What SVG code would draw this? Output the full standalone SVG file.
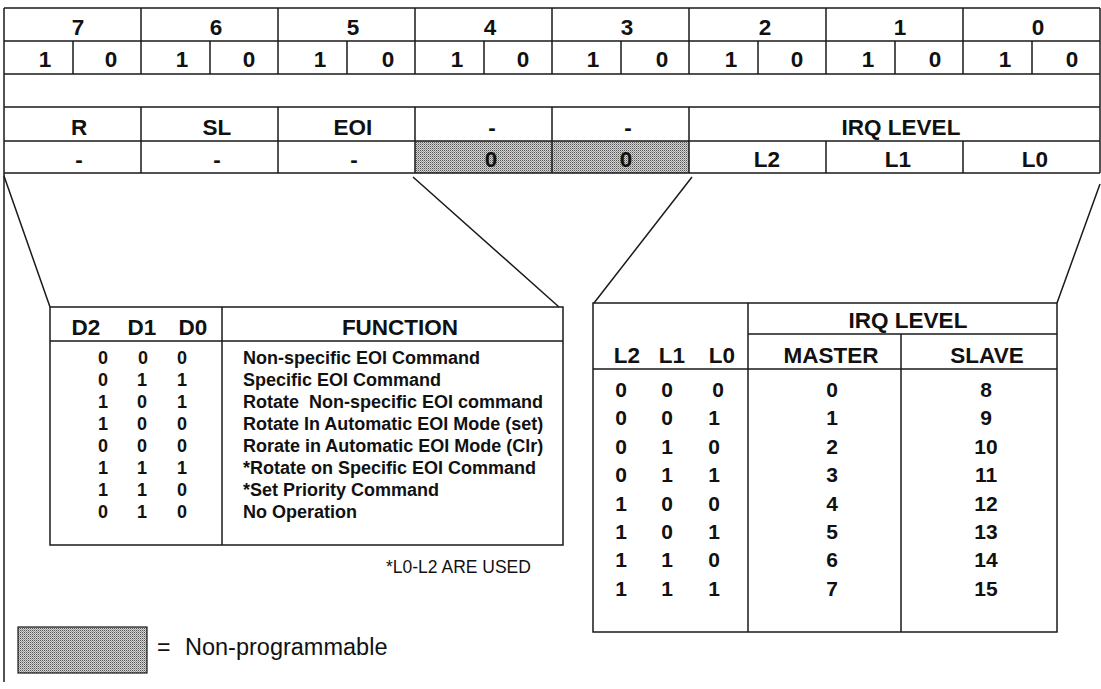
<svg xmlns="http://www.w3.org/2000/svg" width="1101" height="689" viewBox="0 0 1101 689">
<style>
  .ln { stroke:#1a1a1a; stroke-width:1.5; fill:none; }
  .b { font-family:"Liberation Sans", Arial, sans-serif; font-weight:bold; fill:#111; text-anchor:middle; }
  .h { font-size:22.5px; }
  .r { font-size:21px; }
  .s { font-size:18px; }
  .fl { font-family:"Liberation Sans", Arial, sans-serif; font-weight:bold; font-size:18px; fill:#111; }
  .n { font-family:"Liberation Sans", Arial, sans-serif; fill:#111; }
</style>
<defs>
  <pattern id="dots" width="2" height="2" patternUnits="userSpaceOnUse">
    <rect width="2" height="2" fill="#d4d4d4"/>
    <rect width="1" height="1" fill="#555"/>
    <rect x="1" y="1" width="1" height="1" fill="#999"/>
  </pattern>
</defs>
<rect width="1101" height="689" fill="#fff"/>

<g id="register">
  <rect x="415" y="141" width="274" height="32" fill="url(#dots)"/>
  <path class="ln" d="M4 8H1100M4 41H1100M4 74H1100M4 107H1100M4 141H1100M4 173H1100M4 8V682M1100 8V173"/>
  <path class="ln" d="M141 8V74M278 8V74M415 8V74M552 8V74M689 8V74M826 8V74M963 8V74"/>
  <path class="ln" d="M73 41V74M210 41V74M347 41V74M484 41V74M621 41V74M758 41V74M895 41V74M1032 41V74"/>
  <path class="ln" d="M141 107V173M278 107V173M415 107V173M552 107V173M689 107V173M826 141V173M963 141V173"/>
  <g class="b h">
    <text x="78" y="35">7</text><text x="216" y="35">6</text><text x="353" y="35">5</text><text x="490" y="35">4</text>
    <text x="627" y="35">3</text><text x="765" y="35">2</text><text x="900" y="35">1</text><text x="1038" y="35">0</text>
    <text x="45" y="67">1</text><text x="111" y="67">0</text><text x="182" y="67">1</text><text x="249" y="67">0</text>
    <text x="320" y="67">1</text><text x="388" y="67">0</text><text x="457" y="67">1</text><text x="523" y="67">0</text>
    <text x="593" y="67">1</text><text x="662" y="67">0</text><text x="731" y="67">1</text><text x="797" y="67">0</text>
    <text x="868" y="67">1</text><text x="935" y="67">0</text><text x="1005" y="67">1</text><text x="1072" y="67">0</text>
    <text x="79" y="135">R</text><text x="217" y="135">SL</text><text x="353" y="135">EOI</text>
    <text x="492" y="135">-</text><text x="628" y="135">-</text><text x="901" y="135">IRQ LEVEL</text>
    <text x="79" y="167">-</text><text x="217" y="167">-</text><text x="354" y="167">-</text>
    <text x="491" y="167">0</text><text x="626" y="167">0</text>
    <text x="767" y="167">L2</text><text x="898" y="167">L1</text><text x="1035" y="167">L0</text>
  </g>
</g>

<g id="connectors">
  <path class="ln" d="M4 176L50 307M413 177L559 307M692 177L594 303M1100 184L1057 303"/>
</g>

<g id="function-table">
  <path class="ln" d="M50 307H563V545H50ZM222 307V545M50 341H563"/>
  <g class="b h">
    <text x="86" y="335">D2</text><text x="142" y="335">D1</text><text x="193" y="335">D0</text>
    <text x="400" y="335">FUNCTION</text>
  </g>
  <g class="b s">
    <text x="103" y="364">0</text><text x="143" y="364">0</text><text x="182" y="364">0</text>
    <text x="103" y="386">0</text><text x="142" y="386">1</text><text x="182" y="386">1</text>
    <text x="103" y="408">1</text><text x="142" y="408">0</text><text x="182" y="408">1</text>
    <text x="103" y="430">1</text><text x="142" y="430">0</text><text x="182" y="430">0</text>
    <text x="103" y="452">0</text><text x="142" y="452">0</text><text x="182" y="452">0</text>
    <text x="103" y="474">1</text><text x="142" y="474">1</text><text x="182" y="474">1</text>
    <text x="103" y="496">1</text><text x="142" y="496">1</text><text x="182" y="496">0</text>
    <text x="103" y="518">0</text><text x="142" y="518">1</text><text x="182" y="518">0</text>
  </g>
  <g class="fl">
    <text x="243" y="364">Non-specific EOI Command</text>
    <text x="243" y="386">Specific EOI Command</text>
    <text x="243" y="408">Rotate&#160; Non-specific EOI command</text>
    <text x="243" y="430">Rotate In Automatic EOI Mode (set)</text>
    <text x="243" y="452">Rorate in Automatic EOI Mode (Clr)</text>
    <text x="243" y="474">*Rotate on Specific EOI Command</text>
    <text x="243" y="496">*Set Priority Command</text>
    <text x="243" y="518">No Operation</text>
  </g>
  <text class="n" x="386" y="573" font-size="17.5">*L0-L2 ARE USED</text>
</g>

<g id="irq-table">
  <path class="ln" d="M593 303H1057V632H593ZM748 303V632M748 334H1057M901 334V632M593 369H1057"/>
  <g class="b h">
    <text x="908" y="328">IRQ LEVEL</text>
    <text x="627" y="363">L2</text><text x="672" y="363">L1</text><text x="722" y="363">L0</text>
    <text x="831" y="363">MASTER</text><text x="987" y="363">SLAVE</text>
  </g>
  <g class="b r">
    <text x="621" y="397">0</text><text x="667" y="397">0</text><text x="718" y="397">0</text><text x="832" y="397">0</text><text x="986" y="397">8</text>
    <text x="621" y="425">0</text><text x="667" y="425">0</text><text x="714" y="425">1</text><text x="832" y="425">1</text><text x="986" y="425">9</text>
    <text x="621" y="454">0</text><text x="667" y="454">1</text><text x="714" y="454">0</text><text x="832" y="454">2</text><text x="986" y="454">10</text>
    <text x="621" y="482">0</text><text x="667" y="482">1</text><text x="714" y="482">1</text><text x="832" y="482">3</text><text x="986" y="482">11</text>
    <text x="621" y="511">1</text><text x="667" y="511">0</text><text x="714" y="511">0</text><text x="832" y="511">4</text><text x="986" y="511">12</text>
    <text x="621" y="539">1</text><text x="667" y="539">0</text><text x="714" y="539">1</text><text x="832" y="539">5</text><text x="986" y="539">13</text>
    <text x="621" y="567">1</text><text x="667" y="567">1</text><text x="714" y="567">0</text><text x="832" y="567">6</text><text x="986" y="567">14</text>
    <text x="621" y="596">1</text><text x="667" y="596">1</text><text x="714" y="596">1</text><text x="832" y="596">7</text><text x="986" y="596">15</text>
  </g>
</g>

<g id="legend">
  <rect x="18" y="627" width="129" height="46" fill="url(#dots)" stroke="#1a1a1a" stroke-width="1.2"/>
  <text class="n" x="157" y="655" font-size="23">=</text>
  <text class="n" x="185" y="655" font-size="23.5">Non-programmable</text>
</g>
</svg>
